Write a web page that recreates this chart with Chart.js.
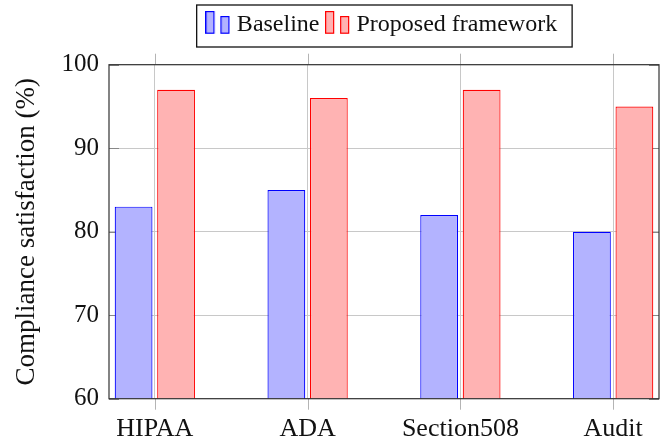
<!DOCTYPE html>
<html>
<head>
<meta charset="utf-8">
<script src="https://cdn.jsdelivr.net/npm/chart.js@4.4.0/dist/chart.umd.min.js"></script>
<style>
  html, body { margin: 0; padding: 0; background: #fff; }
</style>
</head>
<body>
<canvas id="myChart" width="668" height="445"></canvas>
<script>
// data
const categories = ['HIPAA', 'ADA', 'Section508', 'Audit'];
const baseline = [83, 85, 82, 80];
const proposed = [97, 96, 97, 95];
const yTicks = [60, 70, 80, 90, 100];

const FONT = "'Liberation Serif', 'Times New Roman', serif";
const TEXT = '#111';
const BLUE_FILL = 'rgb(179,179,255)';
const RED_FILL = 'rgb(255,179,179)';

// pgfplots style ybar legend image: a tall and a short bar
function barIcon(fill, stroke) {
    const c = document.createElement('canvas');
    c.width = 25;
    c.height = 28;
    const g = c.getContext('2d');
    g.fillStyle = fill;
    g.strokeStyle = stroke;
    g.lineWidth = 1.2;
    g.fillRect(0.6, 0.6, 8, 21.6);
    g.strokeRect(0.6, 0.6, 8, 21.6);
    g.fillRect(15.6, 5.6, 8, 16.6);
    g.strokeRect(15.6, 5.6, 8, 16.6);
    return c;
}
const icons = [barIcon(BLUE_FILL, '#0000ff'), barIcon(RED_FILL, '#ff0000')];

// fixed legend height so the plot top lands where it should
const legendHeight = {
    id: 'legendHeight',
    beforeLayout(chart) {
        const lg = chart.legend;
        if (lg && !lg._patched) {
            const fit = lg.fit;
            lg.fit = function () {
                fit.call(this);
                this.height = 62.7;
            };
            lg._patched = true;
        }
    },
    afterDraw(chart) {
        const boxes = chart.legend.legendHitBoxes;
        if (!boxes || !boxes.length) return;
        const first = boxes[0];
        const last = boxes[boxes.length - 1];
        const left = first.left - 14.2;
        const right = last.left + last.width + 15;
        const ctx = chart.ctx;
        ctx.save();
        ctx.strokeStyle = '#111';
        ctx.lineWidth = 1.3;
        ctx.strokeRect(left, 5, right - left, 42);
        ctx.restore();
    }
};

const frame = {
    id: 'frame',
    beforeDatasetsDraw(chart) {
        const { ctx, chartArea: a, scales: { x, y } } = chart;
        ctx.save();
        ctx.lineWidth = 1;
        ctx.strokeStyle = '#b4b4b4';
        x.ticks.forEach(t => {
            const px = Math.round(x.getPixelForValue(t.value)) + 0.5;
            ctx.beginPath();
            ctx.moveTo(px, a.top - 11);
            ctx.lineTo(px, a.top);
            ctx.moveTo(px, a.bottom);
            ctx.lineTo(px, a.bottom + 11);
            ctx.stroke();
        });
        ctx.strokeStyle = '#888';
        y.ticks.forEach(t => {
            const py = Math.round(y.getPixelForValue(t.value)) + 0.5;
            ctx.beginPath();
            ctx.moveTo(a.left, py);
            ctx.lineTo(a.left + 10, py);
            ctx.moveTo(a.right - 10, py);
            ctx.lineTo(a.right, py);
            ctx.stroke();
        });
        ctx.restore();
    },
    afterDatasetsDraw(chart) {
        const { ctx, chartArea: a } = chart;
        ctx.save();
        ctx.strokeStyle = '#333';
        ctx.lineWidth = 1.2;
        ctx.strokeRect(a.left, a.top, a.right - a.left, a.bottom - a.top);
        ctx.restore();
    }
};

const ctx = document.getElementById('myChart');
new Chart(ctx, {
    type: 'bar',
    data: {
        datasets: [{
            label: 'Baseline',
            data: baseline.map((v, i) => ({ x: i, y: v })),
            backgroundColor: BLUE_FILL,
            borderColor: '#0000ff',
            borderWidth: 1.2
        }, {
            label: 'Proposed framework',
            data: proposed.map((v, i) => ({ x: i, y: v })),
            backgroundColor: RED_FILL,
            borderColor: '#ff0000',
            borderWidth: 1.2
        }]
    },
    options: {
        responsive: false,
        animation: false,
        categoryPercentage: 0.556,
        barPercentage: 0.89,
        layout: { padding: { left: 0, right: 9, top: 2, bottom: 0 } },
        plugins: {
            tooltip: { enabled: false },
            legend: {
                position: 'top',
                fullSize: false,
                labels: {
                    usePointStyle: true,
                    pointStyleWidth: 14,
                    padding: 11,
                    color: TEXT,
                    font: { family: FONT, size: 24 },
                    generateLabels(chart) {
                        const items = Chart.defaults.plugins.legend.labels.generateLabels(chart);
                        items.forEach((it, i) => { it.pointStyle = icons[i]; });
                        return items;
                    }
                }
            }
        },
        scales: {
            x: {
                type: 'linear',
                min: -0.3,
                max: 3.3,
                offset: false,
                afterBuildTicks(scale) {
                    scale.ticks = categories.map((c, i) => ({ value: i }));
                },
                afterFit(scale) { scale.height = 46.3; },
                grid: { color: '#c8c8c8', drawTicks: false, offset: false },
                border: { display: false },
                ticks: {
                    autoSkip: false,
                    maxRotation: 0,
                    padding: 15,
                    color: TEXT,
                    font: { family: FONT, size: 26 },
                    callback: (v) => categories[v]
                }
            },
            y: {
                min: 60,
                max: 100,
                afterBuildTicks(scale) {
                    scale.ticks = yTicks.map(v => ({ value: v }));
                },
                afterFit(scale) { scale.width = 109; },
                grid: { color: '#c8c8c8', drawTicks: false },
                border: { display: false },
                ticks: {
                    padding: 10,
                    color: TEXT,
                    font: { family: FONT, size: 25 }
                },
                title: {
                    display: true,
                    text: 'Compliance satisfaction (%)',
                    color: TEXT,
                    font: { family: FONT, size: 27 },
                    padding: { top: 11, bottom: 0 }
                }
            }
        }
    },
    plugins: [legendHeight, frame]
});
</script>
</body>
</html>
